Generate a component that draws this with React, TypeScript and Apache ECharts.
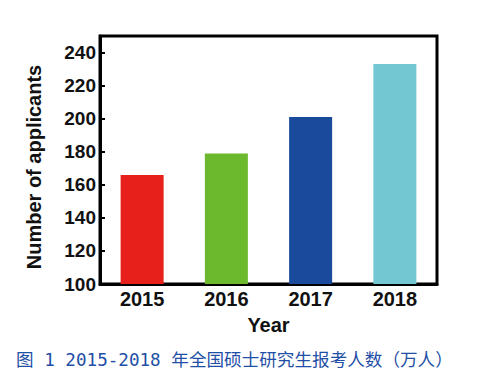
import React, { useEffect, useRef } from "react";
import * as echarts from "echarts";

const years = ["2015", "2016", "2017", "2018"];
const applicants = [166, 179, 201, 233];
const barColors = ["#e8201c", "#6db92e", "#1a4a9c", "#72c7d3"];
const yMin = 100;
const yMax = 250;
const yStep = 20;
const xTitle = "Year";
const yTitle = "Number of applicants";
const caption = "图 1 2015-2018 年全国硕士研究生报考人数（万人）";

export default function App() {
  const ref = useRef<HTMLDivElement>(null);
  useEffect(() => {
    if (!ref.current) return;
    const chart = echarts.init(ref.current, null, { renderer: "svg" });
    const font = "'Liberation Sans', Arial, sans-serif";
    chart.setOption({
      animation: false,
      backgroundColor: "#ffffff",
      grid: {
        left: 100,
        right: 49,
        top: 36,
        bottom: 101,
        show: true,
        borderColor: "#000",
        borderWidth: 3,
        containLabel: false,
      },
      xAxis: {
        type: "category",
        data: years,
        boundaryGap: true,
        axisLine: { lineStyle: { color: "#000", width: 3 } },
        axisTick: { show: false },
        axisLabel: {
          color: "#111",
          fontFamily: font,
          fontWeight: "bold",
          fontSize: 20,
          margin: 5,
        },
        name: xTitle,
        nameLocation: "middle",
        nameGap: 31,
        nameTextStyle: {
          color: "#111",
          fontFamily: font,
          fontWeight: "bold",
          fontSize: 20,
          verticalAlign: "top",
        },
      },
      yAxis: {
        type: "value",
        min: yMin,
        max: yMax,
        interval: yStep,
        splitLine: { show: false },
        axisLine: { show: true, lineStyle: { color: "#000", width: 3 } },
        axisTick: { show: true, inside: true, length: 5, lineStyle: { color: "#000", width: 2 } },
        axisLabel: {
          color: "#111",
          fontFamily: font,
          fontWeight: "bold",
          fontSize: 19,
          margin: 4,
          showMaxLabel: false,
          formatter: (v: number) => (v > 240 ? "" : String(v)),
        },
      },
      graphic: [
        {
          type: "text",
          x: 34,
          y: 167,
          rotation: Math.PI / 2,
          style: {
            text: yTitle,
            fill: "#111",
            font: "bold 20px 'Liberation Sans', Arial, sans-serif",
            align: "center",
            verticalAlign: "middle",
          },
        },
        {
          type: "text",
          x: 16,
          y: 360,
          style: {
            text: caption,
            fill: "#1f4fa6",
            font: "17.6px 'DejaVu Sans Mono', 'Noto Sans CJK SC', monospace",
            align: "left",
            verticalAlign: "middle",
          },
        },
      ],
      series: [
        {
          type: "bar",
          barWidth: 43,
          data: applicants.map((v, i) => ({ value: v, itemStyle: { color: barColors[i] } })),
        },
      ],
    });
    return () => chart.dispose();
  }, []);
  return (
    <div
      ref={ref}
      style={{ position: "fixed", left: 0, top: 0, width: 486, height: 385, background: "#fff" }}
    />
  );
}
